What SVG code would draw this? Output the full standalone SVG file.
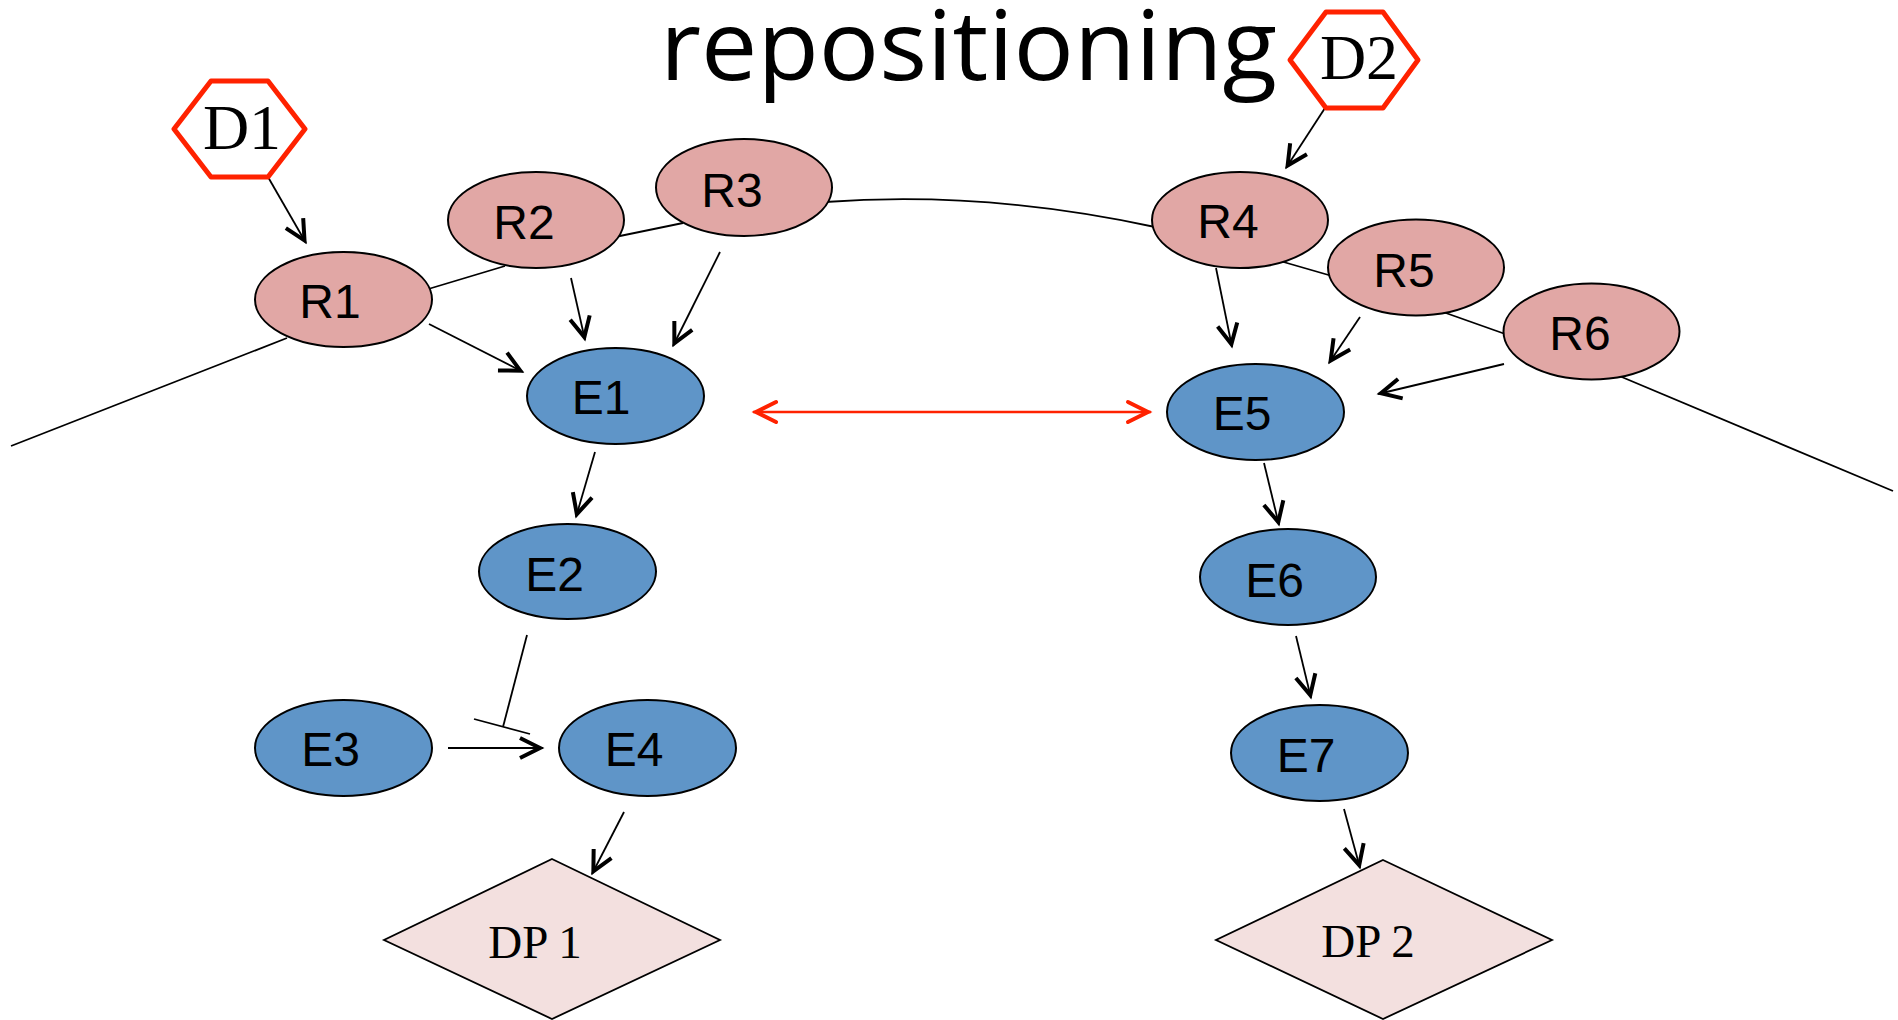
<svg xmlns="http://www.w3.org/2000/svg" width="1898" height="1020" viewBox="0 0 1898 1020">
  <style>
    .r ellipse { fill: #E1A7A5; stroke: #000; stroke-width: 2; }
    .e ellipse { fill: #5F95C8; stroke: #000; stroke-width: 2; }
    .lbl { font-family: "Liberation Sans", Arial, sans-serif; font-size: 48px; fill: #000; text-anchor: middle; }
    .hex polygon { fill: #fff; stroke: #FF2200; stroke-width: 5; stroke-linejoin: round; }
    .dp polygon { fill: #F3E0DF; stroke: #000; stroke-width: 1.8; }
    .serif { font-family: "Liberation Serif", "Times New Roman", serif; fill: #000; text-anchor: middle; }
    .chain { fill: none; stroke: #000; stroke-width: 1.8; }
    .arr { fill: none; stroke: #000; stroke-width: 1.8; marker-end: url(#ah); }
    .title { font-family: "Open Sans", "Lato", sans-serif; font-size: 97px; fill: #000; }
  </style>
  <defs>
    <marker id="ah" markerUnits="userSpaceOnUse" viewBox="-30 -16 34 32" refX="0" refY="0" markerWidth="34" markerHeight="32" orient="auto" overflow="visible">
      <path d="M-23,-10 L-3,0 L-23,10" fill="none" stroke="#000" stroke-width="4"/>
    </marker>
    <marker id="ahr" markerUnits="userSpaceOnUse" viewBox="-30 -16 34 32" refX="0" refY="0" markerWidth="34" markerHeight="32" orient="auto-start-reverse" overflow="visible">
      <path d="M-23,-10 L-3,0 L-23,10" fill="none" stroke="#FF2200" stroke-width="4" stroke-linecap="round"/>
    </marker>
  </defs>

  <rect width="1898" height="1020" fill="#fff"/>

  <text class="title" x="660" y="80" textLength="617" lengthAdjust="spacingAndGlyphs">repositioning</text>

  <!-- backbone chain linking the R nodes -->
  <g id="chain">
    <path class="chain" d="M11,446 L287,338"/>
    <path class="chain" d="M425,290 L505,266"/>
    <path class="chain" d="M615,237 L683,223"/>
    <path class="chain" d="M825,202 C920,195 1030,200 1155,227"/>
    <path class="chain" d="M1280,261 L1332,276"/>
    <path class="chain" d="M1443,312 L1508,335"/>
    <path class="chain" d="M1617,375 L1893,491"/>
  </g>

  <!-- connectors -->
  <g id="connectors">
    <line class="arr" x1="268" y1="177" x2="306" y2="243"/>
    <line class="arr" x1="429" y1="324" x2="523" y2="372"/>
    <line class="arr" x1="571" y1="278" x2="585" y2="340"/>
    <line class="arr" x1="720" y1="252" x2="673" y2="346"/>
    <line class="arr" x1="595" y1="452" x2="576" y2="517"/>
    <line class="arr" x1="448" y1="748" x2="543" y2="748"/>
    <line class="arr" x1="624" y1="812" x2="592" y2="874"/>
    <line class="arr" x1="1325" y1="108" x2="1286" y2="168"/>
    <line class="arr" x1="1216" y1="268" x2="1232" y2="347"/>
    <line class="arr" x1="1360" y1="317" x2="1329" y2="363"/>
    <line class="arr" x1="1504" y1="364" x2="1378" y2="394"/>
    <line class="arr" x1="1264" y1="463" x2="1279" y2="525"/>
    <line class="arr" x1="1296" y1="636" x2="1311" y2="698"/>
    <line class="arr" x1="1344" y1="809" x2="1360" y2="868"/>
    <!-- inhibition E2 -| E4 -->
    <line class="chain" x1="527" y1="635" x2="503" y2="727"/>
    <line class="chain" x1="474" y1="719" x2="530" y2="734"/>
    <!-- E1 <-> E5 -->
    <line x1="753" y1="412" x2="1151" y2="412" stroke="#FF2200" stroke-width="2.5" marker-start="url(#ahr)" marker-end="url(#ahr)"/>
  </g>

  <!-- drivers -->
  <g id="D1" class="hex">
    <polygon points="174,129 211,81 268,81 305,129 268,177 211,177"/>
    <text class="serif" x="242" y="149" font-size="64">D1</text>
  </g>
  <g id="D2" class="hex">
    <polygon points="1290,60 1326,12 1383,12 1418,60 1383,108 1326,108"/>
    <text class="serif" x="1359" y="79" font-size="64">D2</text>
  </g>

  <!-- R nodes -->
  <g id="R1" class="r"><ellipse cx="343.5" cy="299.5" rx="88.5" ry="47.5"/><text class="lbl" x="330" y="318">R1</text></g>
  <g id="R2" class="r"><ellipse cx="536" cy="220" rx="88" ry="48"/><text class="lbl" x="524" y="239">R2</text></g>
  <g id="R3" class="r"><ellipse cx="744" cy="187.5" rx="88" ry="48.5"/><text class="lbl" x="732" y="207">R3</text></g>
  <g id="R4" class="r"><ellipse cx="1240" cy="220" rx="88" ry="48"/><text class="lbl" x="1228" y="238">R4</text></g>
  <g id="R5" class="r"><ellipse cx="1416" cy="267.5" rx="88" ry="48"/><text class="lbl" x="1404" y="287">R5</text></g>
  <g id="R6" class="r"><ellipse cx="1591.5" cy="331.5" rx="88" ry="48"/><text class="lbl" x="1580" y="350">R6</text></g>

  <!-- E nodes -->
  <g id="E1" class="e"><ellipse cx="615.5" cy="396" rx="88.5" ry="48"/><text class="lbl" x="601" y="414">E1</text></g>
  <g id="E2" class="e"><ellipse cx="567.5" cy="571.5" rx="88.5" ry="47.5"/><text class="lbl" x="554.5" y="591">E2</text></g>
  <g id="E3" class="e"><ellipse cx="343.5" cy="748" rx="88.5" ry="48"/><text class="lbl" x="330.5" y="766">E3</text></g>
  <g id="E4" class="e"><ellipse cx="647.5" cy="748" rx="88.5" ry="48"/><text class="lbl" x="634" y="766">E4</text></g>
  <g id="E5" class="e"><ellipse cx="1255.5" cy="412" rx="88.5" ry="48"/><text class="lbl" x="1242" y="430">E5</text></g>
  <g id="E6" class="e"><ellipse cx="1288" cy="577" rx="88" ry="48"/><text class="lbl" x="1274.5" y="597">E6</text></g>
  <g id="E7" class="e"><ellipse cx="1319.5" cy="753" rx="88.5" ry="48"/><text class="lbl" x="1306" y="772">E7</text></g>

  <!-- decision points -->
  <g id="DP1" class="dp">
    <polygon points="552,859 720,940 552,1019 384,940"/>
    <text class="serif" x="535" y="958" font-size="47">DP 1</text>
  </g>
  <g id="DP2" class="dp">
    <polygon points="1383,860 1552,940 1383,1019 1216,940"/>
    <text class="serif" x="1368" y="957" font-size="47">DP 2</text>
  </g>
</svg>
